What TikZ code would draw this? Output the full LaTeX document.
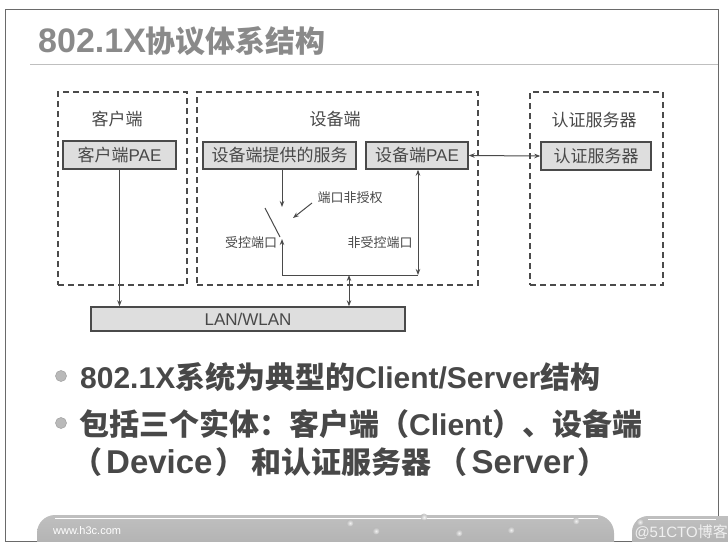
\documentclass[tikz,border=0pt]{standalone}
\usepackage{fontspec}
\setmainfont{Liberation Sans}
\newfontfamily\zh{Noto Sans CJK SC}
\usetikzlibrary{arrows.meta}
\definecolor{ink}{HTML}{484848}
\definecolor{boxfill}{HTML}{DEDEDE}
\definecolor{boxline}{HTML}{4A4A4A}
\definecolor{titlegray}{HTML}{8A8A8A}
\definecolor{framegray}{HTML}{6A6A6A}
\newcommand\Zb[1]{{\fontsize{30}{34}\selectfont\zh #1}}
\newcommand\Zt[1]{{\fontsize{30}{34}\selectfont\zh #1}}
\begin{document}
\begin{tikzpicture}[x=1pt,y=-1pt,
  dbox/.style={draw=boxline, dash pattern=on 6pt off 4pt, line width=1.4pt, inner sep=0pt},
  sbox/.style={draw=boxline, fill=boxfill, line width=1.4pt, inner sep=0pt, text=ink,
    font=\fontsize{17}{20}\selectfont},
  lbl/.style={text=ink, inner sep=0pt, font=\fontsize{17}{20}\selectfont},
  small/.style={text=ink, inner sep=0pt, font=\fontsize{13}{15}\selectfont},
  conn/.style={draw=boxline, line width=1pt},
  >={Stealth[length=6pt,width=4.5pt]},
  bullet/.style={circle, fill=gray!55, draw=gray!70, line width=0.6pt, inner sep=0pt, minimum size=11pt},
  btext/.style={text=ink, inner sep=0pt, anchor=west, font=\fontsize{30}{34}\selectfont\bfseries}
]
\useasboundingbox (0,0) rectangle (728,549);
% frame
\draw[framegray, line width=0.8pt] (5,541) -- (5,9) -- (718,9) -- (718,517);
\draw[framegray, line width=0.8pt] (5,541) -- (632,541);
\draw[gray!50, line width=0.9pt] (30,64) -- (718,64);
% title
\node[anchor=west, inner sep=0pt, text=titlegray, font=\fontsize{34}{38}\selectfont\bfseries] (title) at (38,41) {802.1X\Zt{协议体系结构}};
% containers
\node[dbox, minimum width=129pt, minimum height=193pt] (cli) at (122.5,188.5) {};
\node[dbox, minimum width=281pt, minimum height=193pt] (dev) at (337.5,188.5) {};
\node[dbox, minimum width=133pt, minimum height=193pt] (srv) at (596.5,188.5) {};
\node[lbl] (clil) at (117,119) {\zh 客户端};
\node[lbl] (devl) at (335,119) {\zh 设备端};
\node[lbl] (srvl) at (594,120) {\zh 认证服务器};
% boxes
\node[sbox, minimum width=113pt, minimum height=28pt] (cpae) at (119.5,155) {{\zh 客户端}PAE};
\node[sbox, minimum width=153pt, minimum height=27pt] (svc) at (279.5,155.5) {\zh 设备端提供的服务};
\node[sbox, minimum width=102pt, minimum height=27pt] (dpae) at (417,155.5) {{\zh 设备端}PAE};
\node[sbox, minimum width=110pt, minimum height=28pt] (sbx) at (596,156) {\zh 认证服务器};
\node[sbox, minimum width=314pt, minimum height=24pt, font=\fontsize{17}{20}\selectfont] (lan) at (248,319) {LAN/WLAN};
% small labels
\node[small] (unauth) at (350,198) {\zh 端口非授权};
\node[small] (ctrll) at (251,243) {\zh 受控端口};
\node[small] (uctrll) at (380,243) {\zh 非受控端口};
% coordinates
\coordinate (sw1) at (265,208);
\coordinate (sw2) at (280,237);
\coordinate (ctrl) at (282,239);
\coordinate (svcend) at (282,207);
\coordinate (bl) at (282,275);
\coordinate (br) at (418,275);
\coordinate (mid) at (349,275);
\coordinate (ua1) at (312,203);
\coordinate (ua2) at (293,218);
% connectors
\draw[conn,->] (cpae.south) -- (cpae.south |- lan.north);
\draw[conn,<->] (dpae.east) -- (sbx.west);
\draw[conn,->] (svc.south -| svcend) -- (svcend);
\draw[conn] (sw1) -- (sw2);
\draw[conn,->] (ua1) -- (ua2);
\draw[conn,->] (br) -- (bl) -- (ctrl);
\draw[conn,<->] (br) -- (br |- dpae.south);
\draw[conn,<->] (mid) -- (mid |- lan.north);
% bullets
\node[bullet] (b1) at (61,376) {};
\node[bullet] (b2) at (61,423) {};
\node[btext] (t1) at (80,377) {802.1X\Zb{系统为典型的}Client/Server\Zb{结构}};
\node[btext] (t2) at (79,424) {\Zb{包括三个实体：客户端（}Client\Zb{）、设备端}};
\node[btext] (t3) at (72,462) {\Zb{（}\hspace{4pt}{\fontsize{33}{36}\selectfont Device}\hspace{3pt}\Zb{）\hspace{6pt}和认证服务器\hspace{6pt}（}\hspace{4pt}{\fontsize{33}{36}\selectfont Server}\hspace{3pt}\Zb{）}};
% footer
\begin{scope}
\clip (0,0) rectangle (728,541.5);
\shade[top color=gray!50, bottom color=gray!68, rounded corners=18pt] (37,515) rectangle (614,570);
\shade[top color=gray!50, bottom color=gray!68, rounded corners=16pt] (632,516) rectangle (760,570);
\end{scope}
\draw[white, line width=1.3pt] (55,518.5) -- (598,518.5);
\draw[white, line width=1.3pt] (648,519.5) -- (716,519.5);
\foreach \p in {(350,523),(376,531),(424,517),(459,533),(511,530),(576,521),(640,522)}
  \shade[inner color=white, outer color=gray!55, opacity=0.8] \p circle (3.5);
\node[anchor=west, inner sep=0pt, text=white, font=\fontsize{11}{13}\selectfont] (url) at (53,531) {www.h3c.com};
\node[anchor=east, inner sep=0pt, text=gray!12, font=\fontsize{15}{17}\selectfont] (wm) at (728,532) {@51CTO{\zh 博客}};
\end{tikzpicture}
\end{document}
